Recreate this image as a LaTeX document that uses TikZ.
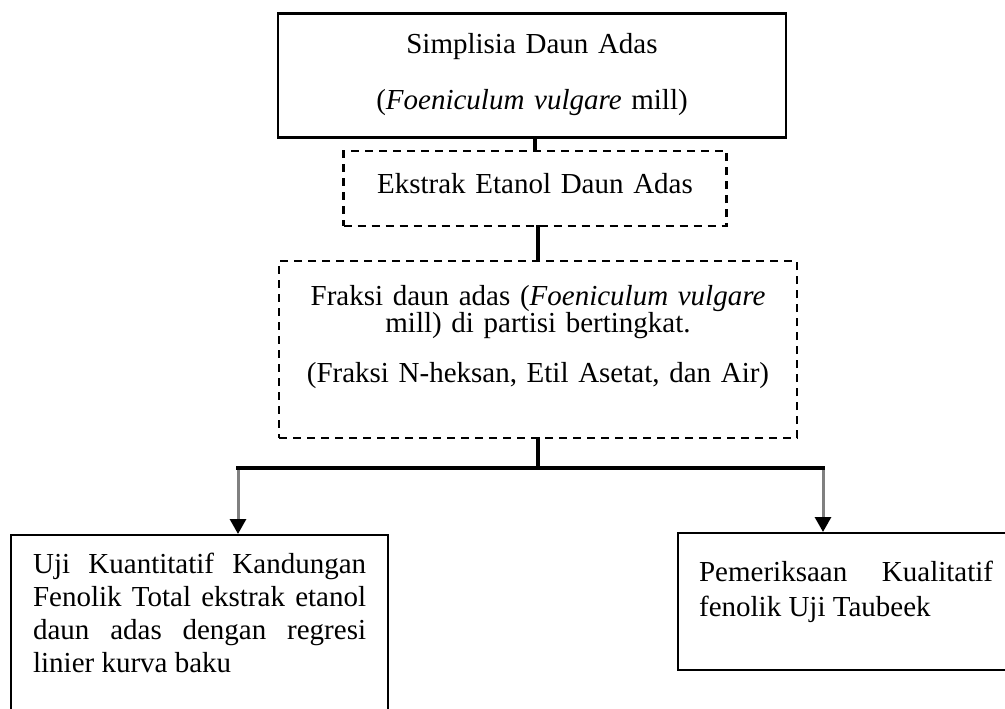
\documentclass[tikz,border=0pt]{standalone}
\usepackage{fontspec}
\setmainfont{Liberation Serif}
\usetikzlibrary{arrows.meta}
\setlength{\lineskiplimit}{-100pt}

\begin{document}
\begin{tikzpicture}[x=1pt,y=-1pt,
	every node/.style={inner ysep=0pt,font=\fontsize{29}{33}\selectfont},
	solidbox/.style={draw,line width=2.8pt,inner xsep=0pt,anchor=north,align=center},
	dashbox/.style={draw,line width=2.4pt,dash pattern=on 8pt off 6pt,inner xsep=0pt,anchor=north,align=center},
	plainbox/.style={draw,line width=2.2pt,align=justify,anchor=north west,inner xsep=22pt},
	conn/.style={line width=4.5pt,line cap=rect},
	arrowline/.style={line width=3pt,black!50,-{Triangle[length=15pt,width=16pt,color=black]}}]
		\useasboundingbox (0,0) rectangle (1005,709);
		\clip (0,0) rectangle (1005,709);
		% boxes
		\node[solidbox,text width=508pt,text height=40pt,text depth=84pt,font=\fontsize{29}{56}\selectfont] (simplisia) at (532,12) {Simplisia Daun Adas\\(\textit{Foeniculum vulgare} mill)};
		\node[dashbox,text width=383pt,text height=42pt,text depth=33pt] (ekstrak) at (535,150) {Ekstrak Etanol Daun Adas};
		\node[dashbox,text width=518pt,text height=44pt,text depth=133pt,font=\fontsize{29}{26}\selectfont] (fraksi) at (538,260) {Fraksi daun adas (\textit{Foeniculum vulgare}\\mill) di partisi bertingkat.\\[23pt](Fraksi N-heksan, Etil Asetat, dan Air)};
		\node[plainbox,text width=333pt,text height=38pt,text depth=200pt] (uji) at (10,534) {Uji Kuantitatif Kandungan\linebreak Fenolik Total ekstrak etanol\linebreak daun adas dengan regresi\linebreak linier kurva baku};
		\node[plainbox,inner xsep=21pt,text width=294pt,text height=48pt,text depth=89pt,font=\fontsize{29}{35}\selectfont] (taubeek) at (677,532) {Pemeriksaan Kualitatif\linebreak fenolik Uji Taubeek};
		% connectors
		\coordinate (jointL) at (238,468);
		\coordinate (jointR) at (823,468);
		\draw[conn] (ekstrak.north) -- (ekstrak.north |- simplisia.south);
		\draw[conn] (fraksi.north) -- (fraksi.north |- ekstrak.south);
		\draw[conn] (fraksi.south) -- (fraksi.south |- jointL);
		\draw[arrowline] (jointL) -- (jointL |- uji.north);
		\draw[arrowline] (jointR) -- (jointR |- taubeek.north);
		\draw[conn] (jointL) -- (jointR);
\end{tikzpicture}
\end{document}
